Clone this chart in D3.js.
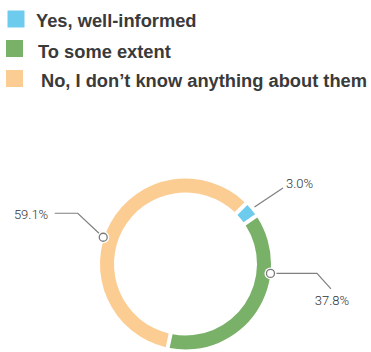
<!DOCTYPE html>
<html>
<head>
<meta charset="utf-8">
<script src="https://cdn.jsdelivr.net/npm/d3@7/dist/d3.min.js"></script>
<style>
  html, body { margin: 0; padding: 0; background: #ffffff; }
  svg { display: block; }
</style>
</head>
<body>
<svg id="chart" width="371" height="352"></svg>
<script>
// Survey answers and their shares (percent)
const categories = ["Yes, well-informed", "To some extent", "No, I don\u2019t know anything about them"];
const shares = [3.0, 37.8, 59.1];
const colors = ["#6dcbee", "#79b168", "#fbcd93"];
const valueLabels = shares.map(v => v.toFixed(1) + "%");

const svg = d3.select("#chart");
const W = 371, H = 352;

// ---- Legend ----
const legendSquares = [[7.5, 10.5], [6, 40], [6, 70]];
const legendText = [[36, 26.5], [38, 58], [41, 87]];
const legend = svg.append("g");
categories.forEach((c, i) => {
  legend.append("rect")
    .attr("x", legendSquares[i][0]).attr("y", legendSquares[i][1])
    .attr("width", 17).attr("height", 17)
    .attr("fill", colors[i]);
  legend.append("text")
    .attr("x", legendText[i][0]).attr("y", legendText[i][1])
    .attr("font-family", "'Liberation Sans', Arial, sans-serif")
    .attr("font-weight", "bold")
    .attr("font-size", 18.3)
    .attr("fill", "#3a3a3a")
    .text(c);
});

// ---- Donut ----
const cx = 185.5, cy = 264, outerR = 85.5, innerR = 71.5;
const g = svg.append("g").attr("transform", `translate(${cx},${cy})`);

const pie = d3.pie().sort(null).value(d => d)
  .startAngle(Math.PI / 4).endAngle(Math.PI / 4 + 2 * Math.PI);
const arcs = pie(shares);

const arc = d3.arc()
  .innerRadius(innerR).outerRadius(outerR)
  .padRadius(outerR).padAngle(4 / outerR);

g.selectAll("path.slice")
  .data(arcs)
  .join("path")
  .attr("class", "slice")
  .attr("d", arc)
  .attr("fill", (d, i) => colors[i]);

// ---- Value labels with leader lines ----
// anchor: angle (deg, clockwise from 12 o'clock) and radius of the line start;
// bend / end: offsets of the leader-line vertices from the anchor;
// text: offset of the text baseline from the line end.
const labelLayout = [
  { angle: null, radius: outerR + 4, dot: false, bend: null, end: [28.5, -19], text: [3, 0.5], anchor: "start" },
  { angle: 96.3, radius: outerR, dot: true, bend: [46.5, 0], end: [60.5, 15.5], text: [1, 16], anchor: "middle" },
  { angle: 288, radius: outerR + 1, dot: true, bend: [-25.5, -24], end: [-48.5, -24], text: [-6.5, 5.5], anchor: "end" }
];

const point = (deg, r) => {
  const a = deg * Math.PI / 180;
  return [r * Math.sin(a), -r * Math.cos(a)];
};

const labels = g.append("g");
arcs.forEach((d, i) => {
  const L = labelLayout[i];
  const deg = L.angle == null ? ((d.startAngle + d.endAngle) / 2) * 180 / Math.PI : L.angle;
  const p0 = point(deg, L.radius);
  const pts = [p0];
  if (L.bend) pts.push([p0[0] + L.bend[0], p0[1] + L.bend[1]]);
  const pEnd = [p0[0] + L.end[0], p0[1] + L.end[1]];
  pts.push(pEnd);

  labels.append("path")
    .attr("d", d3.line()(pts))
    .attr("fill", "none")
    .attr("stroke", "#808080")
    .attr("stroke-width", 1.2);

  if (L.dot) {
    labels.append("circle")
      .attr("cx", p0[0]).attr("cy", p0[1]).attr("r", 6)
      .attr("fill", "#ffffff");
    labels.append("circle")
      .attr("cx", p0[0]).attr("cy", p0[1]).attr("r", 4)
      .attr("fill", "#ffffff")
      .attr("stroke", "#7a7a7a")
      .attr("stroke-width", 1.3);
  }

  labels.append("text")
    .attr("x", pEnd[0] + L.text[0])
    .attr("y", pEnd[1] + L.text[1])
    .attr("text-anchor", L.anchor)
    .attr("font-family", "Roboto, sans-serif")
    .attr("font-weight", 300)
    .attr("font-size", 13)
    .attr("fill", "#333333")
    .text(valueLabels[i]);
});
</script>
</body>
</html>
